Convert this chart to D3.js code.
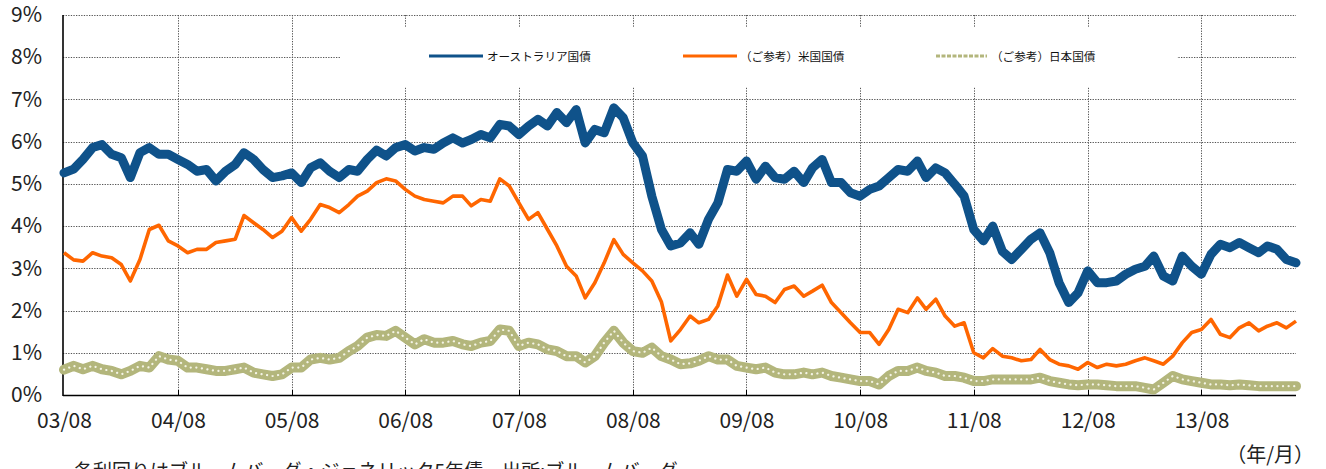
<!DOCTYPE html>
<html><head><meta charset="utf-8">
<script src="https://cdn.jsdelivr.net/npm/d3@7"></script>
<style>body{margin:0;background:#fff}svg{display:block}</style>
</head><body>
<svg id="c" width="1326" height="469"></svg>
<script>
// Monthly observations, 2003-08 .. 2014-06
const firstMonth = new Date(2003, 7, 1);
const lastMonth = new Date(2014, 5, 1);
const xTickLabels = ["03/08","04/08","05/08","06/08","07/08","08/08","09/08","10/08","11/08","12/08","13/08"];
const yTickLabels = ["0%","1%","2%","3%","4%","5%","6%","7%","8%","9%"];
const seriesNames = ["オーストラリア国債","（ご参考）米国国債","（ご参考）日本国債"];

const australia = [
5.26,5.35,5.58,5.86,5.93,
5.70,5.62,5.15,5.74,5.86,5.70,5.70,5.58,5.46,5.30,5.34,5.07,
5.30,5.46,5.74,5.58,5.34,5.15,5.19,5.26,5.03,5.38,5.50,5.30,
5.15,5.34,5.30,5.58,5.80,5.66,5.86,5.93,5.78,5.86,5.82,5.97,
6.09,5.97,6.05,6.17,6.09,6.41,6.37,6.17,6.37,6.53,6.37,6.69,
6.45,6.76,5.97,6.29,6.21,6.80,6.57,5.97,5.66,4.71,3.92,3.53,
3.60,3.84,3.57,4.16,4.55,5.34,5.30,5.54,5.11,5.42,5.15,5.11,
5.30,5.03,5.38,5.58,5.03,5.03,4.79,4.71,4.87,4.95,5.15,5.34,
5.30,5.54,5.15,5.38,5.26,4.99,4.71,3.92,3.65,4.00,3.40,3.21,
3.45,3.69,3.84,3.37,2.66,2.19,2.42,2.94,2.66,2.66,2.70,2.86,
2.98,3.05,3.29,2.82,2.70,3.29,3.05,2.86,3.33,3.57,3.49,3.61,
3.49,3.37,3.53,3.45,3.21,3.13];

const usa = [
3.37,3.20,3.17,3.37,3.29,
3.25,3.09,2.70,3.21,3.92,4.02,3.65,3.53,3.37,3.45,3.45,3.61,
3.65,3.69,4.25,4.08,3.92,3.73,3.88,4.20,3.88,4.16,4.51,4.44,
4.32,4.51,4.71,4.83,5.03,5.12,5.07,4.87,4.71,4.63,4.59,4.55,
4.71,4.71,4.48,4.63,4.59,5.12,4.95,4.55,4.16,4.32,3.92,3.53,
3.05,2.82,2.30,2.66,3.13,3.68,3.33,3.13,2.94,2.70,2.20,1.28,
1.55,1.87,1.71,1.79,2.11,2.84,2.34,2.74,2.38,2.34,2.19,2.50,
2.58,2.34,2.46,2.60,2.19,1.95,1.71,1.48,1.48,1.20,1.55,2.03,
1.95,2.30,2.03,2.27,1.87,1.63,1.71,1.00,0.88,1.10,0.92,0.88,
0.81,0.84,1.08,0.84,0.73,0.69,0.61,0.77,0.65,0.73,0.69,0.73,
0.81,0.88,0.81,0.73,0.92,1.24,1.48,1.55,1.79,1.44,1.36,1.59,
1.71,1.52,1.63,1.71,1.59,1.75];

const japan = [
0.60,0.69,0.61,0.69,0.61,
0.57,0.49,0.57,0.69,0.65,0.92,0.84,0.81,0.65,0.65,0.61,0.57,
0.57,0.61,0.65,0.53,0.49,0.45,0.49,0.65,0.65,0.84,0.88,0.84,
0.88,1.04,1.16,1.36,1.42,1.40,1.52,1.36,1.20,1.32,1.24,1.24,
1.28,1.20,1.16,1.24,1.28,1.55,1.52,1.16,1.24,1.20,1.08,1.04,
0.92,0.92,0.77,0.92,1.24,1.52,1.24,1.04,1.00,1.12,0.92,0.84,
0.73,0.75,0.81,0.92,0.84,0.84,0.69,0.65,0.61,0.65,0.53,0.49,
0.49,0.53,0.49,0.53,0.45,0.41,0.37,0.33,0.33,0.25,0.45,0.57,
0.57,0.65,0.57,0.53,0.45,0.45,0.41,0.33,0.33,0.37,0.37,0.37,
0.37,0.37,0.41,0.33,0.29,0.25,0.23,0.25,0.25,0.23,0.21,0.21,
0.21,0.17,0.13,0.29,0.45,0.37,0.33,0.29,0.25,0.25,0.23,0.25,
0.23,0.21,0.21,0.21,0.21,0.21];

(function () {
const months = d3.timeMonth.range(firstMonth, d3.timeMonth.offset(lastMonth, 1));
const xTickDates = xTickLabels.map(s => new Date(2000 + +s.slice(0,2), +s.slice(3) - 1, 1));

const svg = d3.select("#c");
const pLeft = 63, pRight = 1296, pTop = 15, pBottom = 395;
const x = d3.scaleTime().domain([firstMonth, lastMonth]).range([64, pRight]);
const y = d3.scaleLinear().domain([0, 9]).range([pBottom, pTop]);
const font = "'Noto Sans CJK JP','Noto Sans',sans-serif";

// grid
const grid = svg.append("g").attr("stroke", "#555").attr("stroke-width", 1).attr("stroke-dasharray", "1.3,1.3");
grid.selectAll("line.h").data(d3.range(1, 10)).join("line").attr("class","h")
  .attr("x1", pLeft).attr("x2", pRight).attr("y1", d => Math.round(y(d)) + 0.5).attr("y2", d => Math.round(y(d)) + 0.5);
grid.selectAll("line.v").data(xTickDates.slice(1)).join("line").attr("class","v")
  .attr("x1", d => Math.round(x(d)) + 0.5).attr("x2", d => Math.round(x(d)) + 0.5).attr("y1", pTop).attr("y2", pBottom);

// legend background
svg.append("rect").attr("x", 340).attr("y", 27).attr("width", 837).attr("height", 60).attr("fill", "#fff");

// axes
const xAxis = d3.axisBottom(x).tickValues(xTickDates).tickSize(0).tickPadding(18)
  .tickFormat((d, i) => xTickLabels[i]);
const gx = svg.append("g").attr("transform", `translate(0,${pBottom})`).call(xAxis);
gx.select(".domain").remove();
gx.selectAll("text").attr("font-family", font).attr("font-size", 21).attr("fill", "#222").attr("dy", "0.71em");
svg.append("g").selectAll("line").data(xTickDates.slice(1)).join("line")
  .attr("x1", d => Math.round(x(d)) + 0.5).attr("x2", d => Math.round(x(d)) + 0.5)
  .attr("y1", pBottom - 5).attr("y2", pBottom).attr("stroke", "#000");

const yAxis = d3.axisLeft(y).tickValues(d3.range(0, 10)).tickSize(0).tickPadding(21)
  .tickFormat((d, i) => yTickLabels[i]);
const gy = svg.append("g").attr("transform", `translate(${pLeft},0)`).call(yAxis);
gy.select(".domain").remove();
gy.selectAll("text").attr("font-family", font).attr("font-size", 21).attr("fill", "#222");

svg.append("line").attr("x1", pLeft).attr("x2", pLeft).attr("y1", pTop).attr("y2", pBottom + 1)
  .attr("stroke", "#000").attr("stroke-width", 1.6);
svg.append("line").attr("x1", pLeft).attr("x2", pRight).attr("y1", pBottom + 0.5).attr("y2", pBottom + 0.5)
  .attr("stroke", "#000").attr("stroke-width", 1.6);

// lines
const line = vals => d3.line().x((d, i) => x(months[i])).y(d => y(d))(vals);
svg.append("path").attr("d", line(japan)).attr("fill", "none").attr("stroke", "#b3b67c")
  .attr("stroke-width", 10).attr("stroke-linejoin", "round").attr("stroke-linecap", "round");
svg.append("path").attr("d", line(japan)).attr("fill", "none").attr("stroke", "#f4f4e6")
  .attr("stroke-width", 2.2).attr("stroke-linecap", "round").attr("stroke-dasharray", "0.1,5.5");
svg.append("path").attr("d", line(usa)).attr("fill", "none").attr("stroke", "#ff6600")
  .attr("stroke-width", 3.6).attr("stroke-linejoin", "round");
svg.append("path").attr("d", line(australia)).attr("fill", "none").attr("stroke", "#0f528a")
  .attr("stroke-width", 9).attr("stroke-linejoin", "round").attr("stroke-linecap", "round");

// legend
const legend = [
  {x1: 429, x2: 483, tx: 487, color: "#0f528a", dash: null},
  {x1: 683, x2: 737, tx: 740, color: "#ff6600", dash: null},
  {x1: 936, x2: 987, tx: 991, color: "#b3b67c", dash: "4,1.5"}
];
legend.forEach((l, i) => {
  svg.append("line").attr("x1", l.x1).attr("x2", l.x2).attr("y1", 56).attr("y2", 56)
    .attr("stroke", l.color).attr("stroke-width", 3).attr("stroke-dasharray", l.dash);
  svg.append("text").attr("x", l.tx).attr("y", 60.5).attr("font-family", font).attr("font-size", 11.6)
    .attr("fill", "#111").text(seriesNames[i]);
});

svg.append("text").attr("x", 1314).attr("y", 462).attr("text-anchor", "end").attr("font-family", font)
  .attr("font-size", 20).attr("fill", "#222").text("（年/月）");
svg.append("text").attr("x", 74).attr("y", 478).attr("font-family", font)
  .attr("font-size", 19).attr("fill", "#222").text("各利回りはブルームバーグ・ジェネリック5年債　出所:ブルームバーグ");
})();
</script>
</body></html>
